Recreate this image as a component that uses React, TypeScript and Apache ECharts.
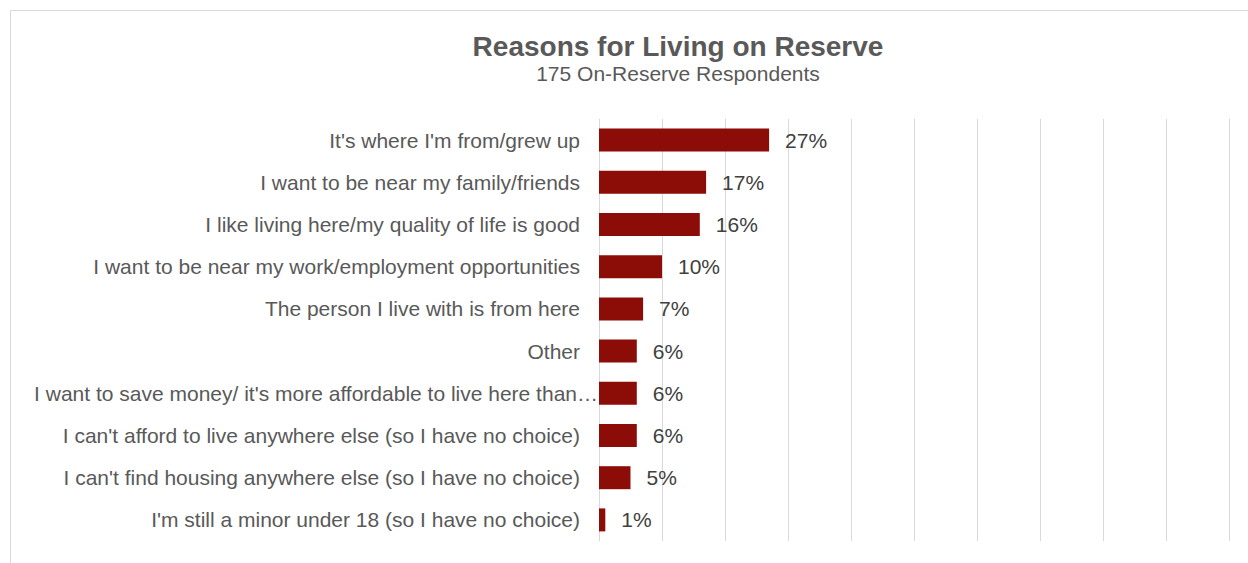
import React, { useEffect, useRef } from "react";
import * as echarts from "echarts";

const categories = [
  "It's where I'm from/grew up",
  "I want to be near my family/friends",
  "I like living here/my quality of life is good",
  "I want to be near my work/employment opportunities",
  "The person I live with is from here",
  "Other",
  "I want to save money/ it's more affordable to live here than…",
  "I can't afford to live anywhere else (so I have no choice)",
  "I can't find housing anywhere else (so I have no choice)",
  "I'm still a minor under 18 (so I have no choice)",
];

const shares = [27, 17, 16, 10, 7, 6, 6, 6, 5, 1];

const titleText = "Reasons for Living on Reserve";
const subtitleText = "175 On-Reserve Respondents";

const FONT = "'Liberation Sans', Arial, sans-serif";
const LABEL_SIZE = 21;

export default function App() {
  const ref = useRef<HTMLDivElement>(null);

  useEffect(() => {
    if (!ref.current) return;
    const chart = echarts.init(ref.current, null, { renderer: "svg" });
    chart.setOption({
      animation: false,
      backgroundColor: "#ffffff",
      textStyle: { fontFamily: FONT },
      graphic: [
        {
          type: "rect",
          shape: { x: 10.5, y: 10.5, width: 1400, height: 700 },
          style: { fill: "none", stroke: "#d9d9d9", lineWidth: 1 },
          silent: true,
          z: -1,
        },
      ],
      title: {
        text: titleText,
        subtext: subtitleText,
        left: 673,
        textAlign: "center",
        top: 27,
        itemGap: 3,
        textStyle: {
          fontFamily: FONT,
          fontSize: 28,
          fontWeight: "bold",
          color: "#595959",
        },
        subtextStyle: {
          fontFamily: FONT,
          fontSize: 21,
          color: "#595959",
        },
      },
      grid: { left: 599, right: 19, top: 119, bottom: 22, containLabel: false },
      xAxis: {
        type: "value",
        min: 0,
        max: 100,
        interval: 10,
        axisLabel: { show: false },
        axisLine: { show: false },
        axisTick: { show: false },
        splitLine: { show: true, lineStyle: { color: "#d9d9d9", width: 1 } },
      },
      yAxis: {
        type: "category",
        inverse: true,
        data: categories,
        axisLine: { show: true, lineStyle: { color: "#d9d9d9", width: 1 } },
        axisTick: { show: false },
        axisLabel: {
          margin: 0,
          fontFamily: FONT,
          fontSize: LABEL_SIZE,
          color: "#595959",
          formatter: (v: string) =>
            v.endsWith("…") ? `{tight|${v}}` : `{std|${v}}`,
          rich: {
            std: { fontFamily: FONT, fontSize: LABEL_SIZE, color: "#595959", padding: [0, 19, 0, 0] },
            tight: { fontFamily: FONT, fontSize: LABEL_SIZE, color: "#595959", padding: [0, 1, 0, 0] },
          },
        },
      },
      series: [
        {
          type: "bar",
          data: shares,
          barWidth: 23,
          itemStyle: { color: "#8c0d07" },
          label: {
            show: true,
            position: "right",
            distance: 16,
            fontFamily: FONT,
            fontSize: LABEL_SIZE,
            color: "#404040",
            formatter: (p: any) => `${p.value}%`,
          },
        },
      ],
    });
    return () => chart.dispose();
  }, []);

  return (
    <div
      ref={ref}
      style={{ position: "absolute", left: 0, top: 0, width: 1248, height: 563 }}
    />
  );
}
